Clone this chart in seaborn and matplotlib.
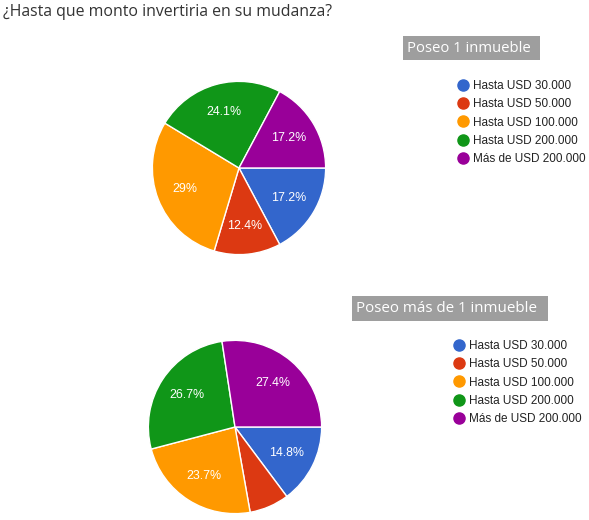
import matplotlib
matplotlib.use("Agg")
import matplotlib.pyplot as plt
import seaborn as sns
from matplotlib.lines import Line2D
from matplotlib.patches import Rectangle

sns.set_theme(style="white")
plt.rcParams["font.family"] = ["Liberation Sans", "DejaVu Sans"]

title = "¿Hasta que monto invertiria en su mudanza?"
group_titles = ["Poseo 1 inmueble", "Poseo más de 1 inmueble"]
categories = ["Hasta USD 30.000", "Hasta USD 50.000", "Hasta USD 100.000",
              "Hasta USD 200.000", "Más de USD 200.000"]
values_1 = [17.2, 12.4, 29.0, 24.1, 17.2]
values_2 = [14.8, 7.4, 23.7, 26.7, 27.4]
colors = ["#3366CC", "#DC3912", "#FF9900", "#109618", "#990099"]

W, H = 589, 520
fig = plt.figure(figsize=(W / 100, H / 100), dpi=100)
fig.patch.set_facecolor("white")


def fmt(p):
    if p < 10:
        return ""
    s = f"{p:.1f}"
    if s.endswith(".0"):
        s = s[:-2]
    return s + "%"


def pie_at(values, cx, cy, r):
    ax = fig.add_axes([(cx - r) / W, 1 - (cy + r) / H, 2 * r / W, 2 * r / H])
    ax.pie(values, colors=colors, startangle=0, counterclock=False,
           autopct=fmt, pctdistance=0.67,
           wedgeprops=dict(edgecolor="white", linewidth=1),
           textprops=dict(color="white", fontsize=8.9, family=["Liberation Sans"]))
    ax.set_xlim(-1.01, 1.01)
    ax.set_ylim(-1.01, 1.01)
    ax.set_axis_off()
    return ax


def box_title(text, x0, y0, x1, y1, size):
    fig.patches.append(Rectangle((x0 / W, 1 - y1 / H), (x1 - x0) / W, (y1 - y0) / H,
                                 transform=fig.transFigure, facecolor="#9E9E9E",
                                 edgecolor="none"))
    fig.text((x0 + 4) / W, 1 - ((y0 + y1) / 2) / H, text, color="white",
             fontsize=size, va="center", ha="left", family=["Open Sans", "DejaVu Sans"])


def legend_at(x, y):
    handles = [Line2D([0], [0], marker="o", linestyle="none", markersize=8,
                      markerfacecolor=c, markeredgecolor=c) for c in colors]
    fig.legend(handles, categories, loc="upper left",
               bbox_to_anchor=(x / W, 1 - y / H), frameon=False, fontsize=8.5,
               handlelength=1.0, handletextpad=0.35, labelspacing=0.53,
               borderpad=0, borderaxespad=0, labelcolor="#222222")


fig.text(3 / W, 1 - 12 / H, title, fontsize=11.4, color="#333333",
         va="center", ha="left", family=["Open Sans", "DejaVu Sans"])

pie_at(values_1, 239, 168, 87.5)
pie_at(values_2, 235, 427, 87.5)

box_title(group_titles[0], 403, 36, 540, 60, 10.7)
box_title(group_titles[1], 352, 296, 548, 321, 10.9)

legend_at(457, 80)
legend_at(453, 340)

fig.savefig("out.png", dpi=100, facecolor="white")
